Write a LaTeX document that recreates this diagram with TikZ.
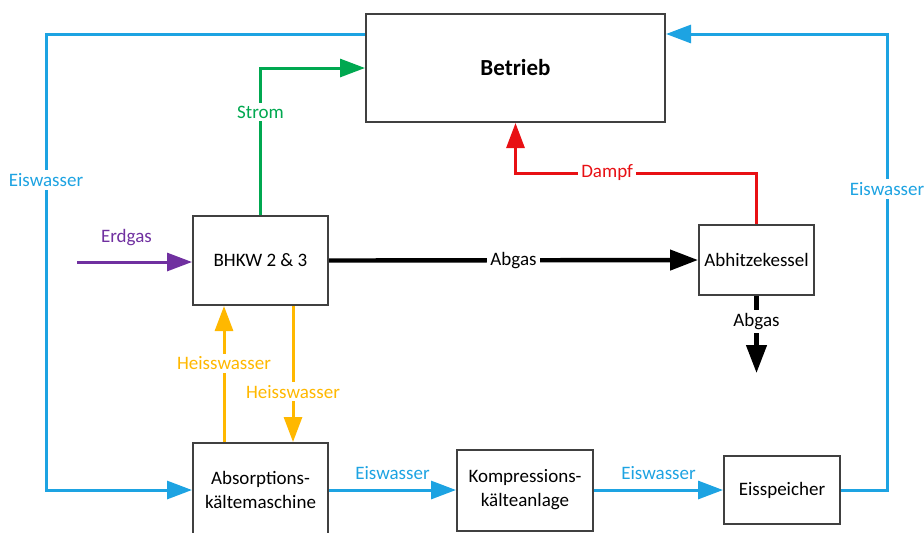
\documentclass[tikz,border=0pt]{standalone}
\usepackage{fontspec}
\setmainfont{Carlito}
\usetikzlibrary{arrows.meta}
\definecolor{eisblau}{RGB}{29,163,226}
\definecolor{stromgruen}{RGB}{0,168,80}
\definecolor{dampfrot}{RGB}{232,16,20}
\definecolor{heissgelb}{RGB}{255,184,0}
\definecolor{gaslila}{RGB}{112,48,160}
\definecolor{rahmen}{RGB}{64,64,64}

\begin{document}
\begin{tikzpicture}[x=0.5pt,y=-0.5pt,
  font=\fontsize{9.5}{12}\selectfont,
  box/.style={draw=rahmen,line width=1pt,align=center,inner sep=2pt},
  flow/.style={line width=1.5pt,-{Triangle[length=12.5pt,width=9pt]}},
  abgasflow/.style={line width=2.2pt,-{Triangle[length=14pt,width=10pt]}},
  lbl/.style={fill=white,inner sep=1.5pt}]
\useasboundingbox (0,0) rectangle (924,532);

\node[box,minimum width=149.5pt,minimum height=54pt,font=\fontsize{11.5}{14}\selectfont\bfseries] (Bet) at (515.5,68) {Betrieb};
\node[box,minimum width=67.5pt,minimum height=44.5pt] (BHKW) at (260.5,260.5) {BHKW 2 \& 3};
\node[box,minimum width=57.5pt,minimum height=35pt] (AHK) at (756.5,260) {Abhitzekessel};
\node[box,minimum width=67.5pt,minimum height=47pt] (AKM) at (260.5,490) {Absorptions-\\kältemaschine};
\node[box,minimum width=68pt,minimum height=40.5pt] (KKA) at (525,490) {Kompressions-\\kälteanlage};
\node[box,minimum width=58pt,minimum height=34pt] (ESP) at (782,490) {Eisspeicher};

\coordinate (gas) at (77,262);
\coordinate (dmp) at (756.5,173);
\coordinate (ab) at (756.5,373);
\coordinate (hwa) at (224,0);
\coordinate (hwb) at (293,0);
\coordinate (ewl) at (46,34);
\coordinate (ewr) at (887,34);

\draw[flow,gaslila] (gas) -- (gas -| BHKW.west) node[pos=0.43,above=4pt] {Erdgas};
\draw[flow,stromgruen] (BHKW.north) |- node[pos=0.35,lbl] {Strom} (Bet.west);
\draw[abgasflow] (BHKW.east) -- (AHK.west) node[midway,lbl] {Abgas};
\draw[abgasflow] (AHK.south) -- (ab) node[pos=0.33,lbl] {Abgas};
\draw[flow,dampfrot] (AHK.north) -- (dmp) -| node[pos=0.31,lbl] {Dampf} (Bet.south);
\draw[flow,heissgelb] (AKM.north -| hwa) -- (BHKW.south -| hwa) node[pos=0.58,lbl] {Heisswasser};
\draw[flow,heissgelb] (BHKW.south -| hwb) -- (AKM.north -| hwb) node[pos=0.63,lbl] {Heisswasser};

\draw[flow,eisblau] (ewl -| Bet.west) -- (ewl) |- node[pos=0.16,lbl] {Eiswasser} (AKM.west);
\draw[flow,eisblau] (AKM.east) -- (KKA.west) node[midway,above=1pt] {Eiswasser};
\draw[flow,eisblau] (KKA.east) -- (ESP.west) node[midway,above=1pt] {Eiswasser};
\draw[flow,eisblau] (ESP.east) -| node[pos=0.83,lbl] {Eiswasser} (ewr) -- (ewr -| Bet.east);
\end{tikzpicture}
\end{document}
